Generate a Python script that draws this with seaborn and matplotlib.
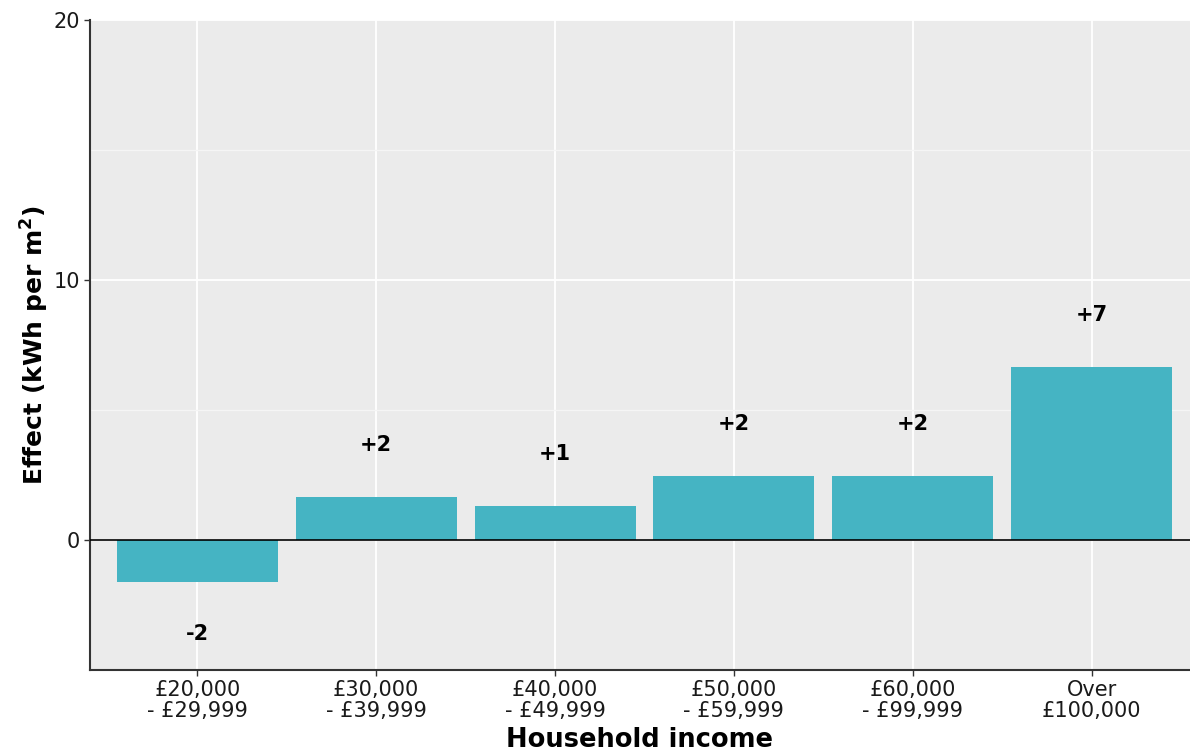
import matplotlib
matplotlib.use('Agg')
import matplotlib.pyplot as plt
import matplotlib.ticker as mticker
import seaborn as sns
import pandas as pd

# ── Datos ──────────────────────────────────────────────────────────
categorias = ['£20,000\n- £29,999', '£30,000\n- £39,999', '£40,000\n- £49,999',
              '£50,000\n- £59,999', '£60,000\n- £99,999', 'Over\n£100,000']
efecto = [-1.62, 1.66, 1.31, 2.47, 2.47, 6.64]
etiquetas = ['-2', '+2', '+1', '+2', '+2', '+7']

BAR_COLOR = '#45B4C3'

# ── Estilo ─────────────────────────────────────────────────────────
sns.set_theme(style='darkgrid', rc={
    'axes.facecolor': '#EBEBEB',
    'figure.facecolor': 'white',
    'grid.color': 'white',
    'axes.edgecolor': '#333333',
    'xtick.bottom': True,
    'ytick.left': True,
    'text.color': 'black',
    'axes.labelcolor': 'black',
})
plt.rcParams['font.family'] = ['DejaVu Sans']

df = pd.DataFrame({'income': categorias, 'effect': efecto})

fig = plt.figure(figsize=(11.9, 7.51), dpi=100)
ax = fig.add_axes([90 / 1190, 1 - 670 / 751, 1100 / 1190, 650 / 751])

sns.barplot(data=df, x='income', y='effect', color=BAR_COLOR,
            saturation=1, width=0.9, linewidth=0, ax=ax, zorder=3)

for i, (val, lab) in enumerate(zip(efecto, etiquetas)):
    y = val + 2 if val >= 0 else val - 2
    ax.text(i, y, lab, ha='center', va='center', fontsize=15,
            fontweight='bold', color='black', zorder=4)

ax.axhline(0, color='black', linewidth=1.2, zorder=3.5)

ax.set_xlim(-0.6, 5.55)
ax.set_ylim(-5, 20)
ax.yaxis.set_major_locator(mticker.FixedLocator([0, 10, 20]))
ax.yaxis.set_minor_locator(mticker.FixedLocator([5, 15]))
ax.grid(True, which='major', color='white', linewidth=1.3)
ax.grid(True, which='minor', axis='y', color='#F5F5F5', linewidth=1.0)
ax.set_axisbelow(True)

for s in ['top', 'right']:
    ax.spines[s].set_visible(False)
for s in ['left', 'bottom']:
    ax.spines[s].set_color('#333333')
    ax.spines[s].set_linewidth(1.5)

ax.tick_params(axis='both', which='major', labelsize=15, colors='#333333',
               labelcolor='#1a1a1a', length=4, width=1, pad=3)
ax.tick_params(axis='y', which='minor', length=0)
for t in ax.get_xticklabels():
    t.set_linespacing(1.1)

ax.set_xlabel('Household income', fontsize=18.5, fontweight='bold', labelpad=4)
ax.set_ylabel('Effect (kWh per m$^\\mathbf{2}$)', fontsize=18,
              fontweight='bold', labelpad=2)

plt.savefig('out.png', dpi=100)
